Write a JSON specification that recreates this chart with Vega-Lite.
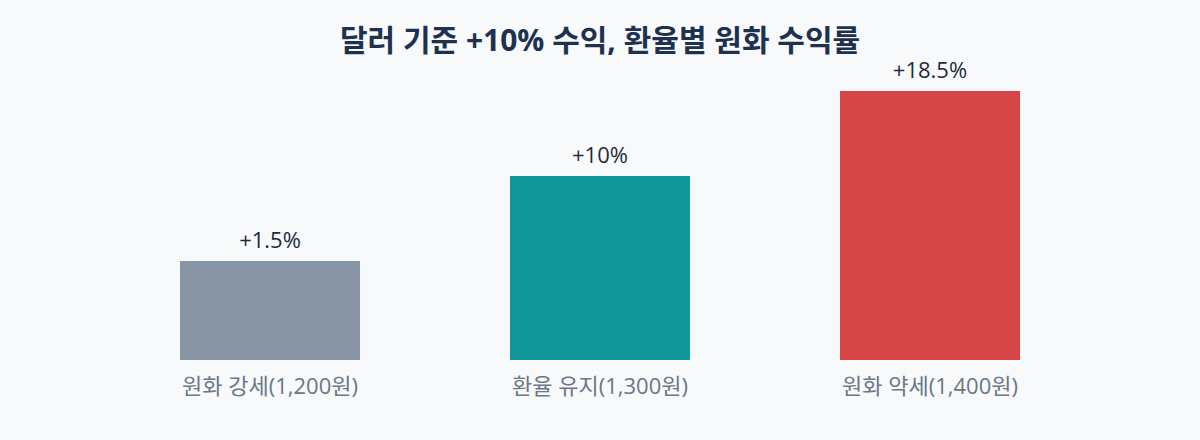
{
  "$schema": "https://vega.github.io/schema/vega-lite/v6.json",
  "width": 990,
  "height": 300,
  "autosize": "none",
  "padding": {"left": 105, "right": 105, "top": 60, "bottom": 80},
  "background": "#f7f9fb",
  "title": {
    "text": "달러 기준 +10% 수익, 환율별 원화 수익률",
    "font": "Open Sans, Noto Sans CJK KR",
    "fontSize": 30,
    "fontWeight": "bold",
    "color": "#1e3250",
    "anchor": "middle",
    "offset": 3
  },
  "data": {
    "values": [
      {"scenario": "원화 강세(1,200원)", "return": 1.5, "label": "+1.5%"},
      {"scenario": "환율 유지(1,300원)", "return": 10, "label": "+10%"},
      {"scenario": "원화 약세(1,400원)", "return": 18.5, "label": "+18.5%"}
    ]
  },
  "encoding": {
    "x": {
      "field": "scenario",
      "type": "nominal",
      "sort": null,
      "scale": {"paddingInner": 0.4545, "paddingOuter": 0.2273},
      "axis": {
        "title": null,
        "labelAngle": 0,
        "labelFont": "Open Sans, Noto Sans CJK KR",
        "labelFontSize": 22,
        "labelColor": "#6b7785",
        "labelPadding": 16,
        "domain": false,
        "ticks": false,
        "grid": false
      }
    },
    "y": {
      "field": "return",
      "type": "quantitative",
      "scale": {"domain": [-8.4, 21.6], "zero": false, "nice": false},
      "axis": null
    }
  },
  "layer": [
    {
      "mark": {"type": "bar"},
      "encoding": {
        "y2": {"datum": -8.4},
        "color": {
          "field": "scenario",
          "type": "nominal",
          "sort": null,
          "scale": {"range": ["#8795a5", "#10979a", "#d64548"]},
          "legend": null
        }
      }
    },
    {
      "mark": {
        "type": "text",
        "baseline": "bottom",
        "dy": -8,
        "font": "Open Sans, Noto Sans CJK KR",
        "fontSize": 22,
        "color": "#1e2b3a"
      },
      "encoding": {"text": {"field": "label"}}
    }
  ],
  "config": {"view": {"stroke": null}}
}
